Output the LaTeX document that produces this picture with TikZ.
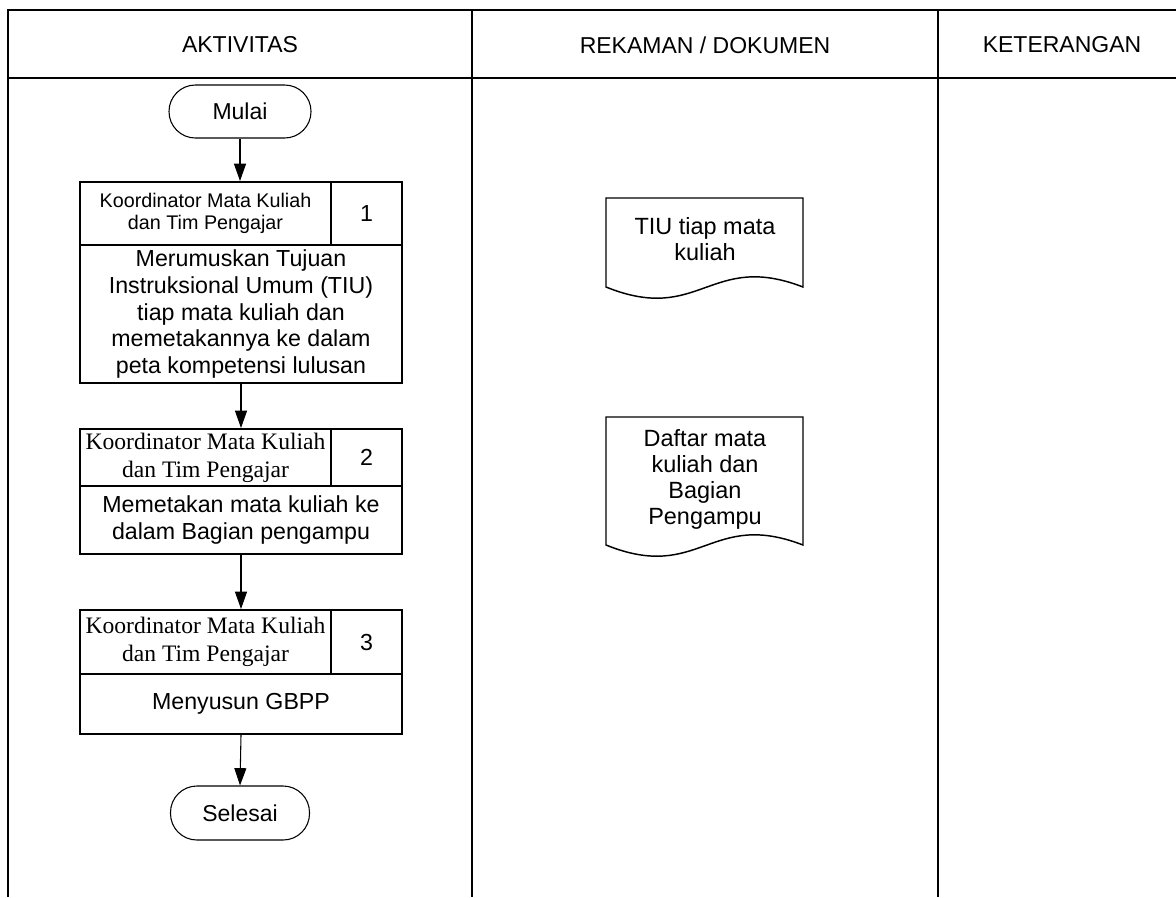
\documentclass[tikz,border=0pt]{standalone}
\usepackage{fontspec}
\setmainfont{Liberation Sans}
\newfontfamily\timesf{Liberation Serif}
\usetikzlibrary{arrows.meta}
\begin{document}
\begin{tikzpicture}[x=0.75pt,y=-0.75pt,
  tbl/.style={line width=1.7pt},
  hdr/.style={font=\fontsize{17.25}{20}\selectfont},
  cell/.style={draw, line width=1.5pt, anchor=north west, inner sep=0pt, align=center},
  big/.style={font=\fontsize{17.4}{20}\selectfont},
  smallsans/.style={font=\fontsize{14.8}{16.3}\selectfont},
  serifhead/.style={font=\timesf\fontsize{17.7}{21}\selectfont},
  term/.style={draw, line width=0.8pt, rounded corners=19.8pt, inner sep=0pt, font=\fontsize{17.25}{20}\selectfont},
  flow/.style={line width=0.8pt, -{Triangle[length=13pt,width=9pt]}},
  docshape/.style={draw, line width=1.1pt},
  doctext/.style={align=center, inner sep=0pt, font=\fontsize{17.6}{19.5}\selectfont}
]
\useasboundingbox (0,0) rectangle (1176,897);

% table
\draw[tbl] (8,897) -- (8,10) -- (1176,10);
\draw[tbl] (8,78) -- (1176,78);
\draw[tbl] (472,10) -- (472,897);
\draw[tbl] (938,10) -- (938,897);
\node[hdr] (hA) at (240,45) {AKTIVITAS};
\node[hdr] (hR) at (705,45) {REKAMAN / DOKUMEN};
\node[hdr] (hK) at (1062,45) {KETERANGAN};

% terminators
\node[term, minimum width=142*0.75pt, minimum height=53*0.75pt] (mulai) at (240,111.5) {Mulai};
\node[term, minimum width=139*0.75pt, minimum height=54*0.75pt] (selesai) at (240,813) {Selesai};

% box 1
\node[cell, smallsans, minimum width=251*0.75pt, minimum height=63*0.75pt] (h1) at (79,181) {Koordinator Mata Kuliah\\dan Tim Pengajar};
\node[cell, big, minimum width=71*0.75pt, minimum height=63*0.75pt] (n1) at (330,181) {1};
\node[cell, big, minimum width=322*0.75pt, minimum height=138*0.75pt] (m1) at (79,244) {Merumuskan Tujuan\\Instruksional Umum (TIU)\\tiap mata kuliah dan\\memetakannya ke dalam\\peta kompetensi lulusan};

% box 2
\node[cell, serifhead, minimum width=251*0.75pt, minimum height=57*0.75pt] (h2) at (79,428) {Koordinator Mata Kuliah\\dan Tim Pengajar};
\node[cell, big, minimum width=71*0.75pt, minimum height=57*0.75pt] (n2) at (330,428) {2};
\node[cell, big, minimum width=322*0.75pt, minimum height=68*0.75pt] (m2) at (79,485) {Memetakan mata kuliah ke\\dalam Bagian pengampu};

% box 3
\node[cell, serifhead, minimum width=251*0.75pt, minimum height=64*0.75pt] (h3) at (79,609) {Koordinator Mata Kuliah\\dan Tim Pengajar};
\node[cell, big, minimum width=71*0.75pt, minimum height=64*0.75pt] (n3) at (330,609) {3};
\node[cell, big, minimum width=322*0.75pt, minimum height=60*0.75pt] (m3) at (79,673) {Menyusun GBPP};

% connectors
\draw[flow] (mulai.south) -- (mulai.south |- h1.north);
\draw[flow] (m1.south) -- (m1.south |- h2.north);
\draw[flow] (m2.south) -- (m2.south |- h3.north);
\draw[flow] (m3.south) -- (selesai.north);

% documents
\draw[docshape] (606,198) -- (606,287) .. controls (700,325) and (710,251) .. (803,287) -- (803,198) -- cycle;
\node[doctext] (d1) at (705,239) {TIU tiap mata\\kuliah};
\draw[docshape] (606,417) -- (606,545) .. controls (700,583) and (710,509) .. (803,545) -- (803,417) -- cycle;
\node[doctext] (d2) at (705,479) {Daftar mata\\kuliah dan\\Bagian\\Pengampu};
\end{tikzpicture}
\end{document}
